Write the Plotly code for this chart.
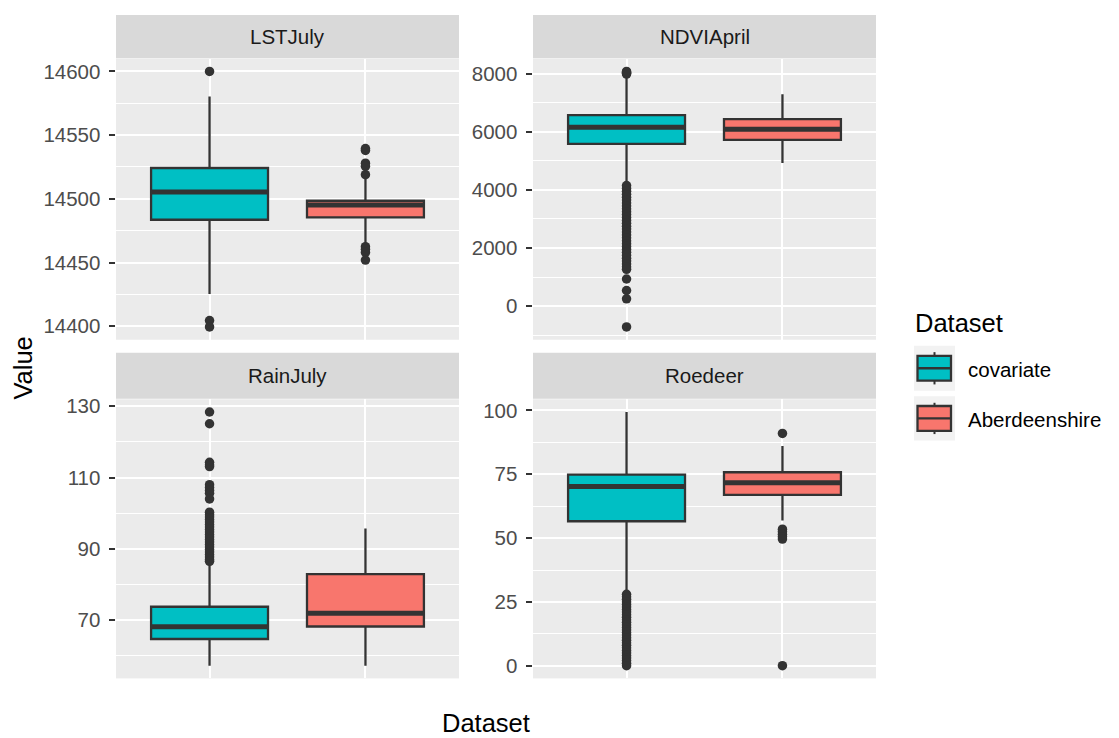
import plotly.graph_objects as go

# ---------------- data ----------------
panels = ["LSTJuly", "NDVIApril", "RainJuly", "Roedeer"]
datasets = ["covariate", "Aberdeenshire"]
fill_colors = ["#00BFC4", "#F8766D"]

# box statistics per panel (order of `panels`)
cov_q1 = [14483.6, 5584, 64.7, 56.6]
cov_median = [14505.3, 6154, 68.15, 70.2]
cov_q3 = [14524.2, 6575, 73.75, 74.9]
cov_lower = [14425.3, 4300, 57.2, 29.0]
cov_upper = [14580.4, 7950, 86.5, 99.4]

abd_q1 = [14485.5, 5720, 68.2, 66.9]
abd_median = [14495.1, 6085, 71.9, 71.7]
abd_q3 = [14498.5, 6438, 82.9, 75.8]
abd_lower = [14465.0, 4923, 57.2, 56.9]
abd_upper = [14517.0, 7293, 95.7, 86.1]

# outliers
lst_cov_out = [14600, 14404.5, 14399.5]
lst_abd_out = [14539.5, 14538, 14528, 14525.5, 14519, 14462.5, 14460.5, 14458, 14452]
ndvi_cov_out = [7990, 8020, 8050, 8080,
                4150, 4050, 3950, 3850, 3750, 3650, 3550, 3450, 3350, 3250,
                3150, 3050, 2950, 2850, 2750, 2650, 2550, 2450, 2350, 2250,
                2150, 2050, 1950, 1850, 1750, 1650, 1550, 1450, 1350, 1265,
                933, 537, 250, -718]
ndvi_abd_out = []
rain_cov_out = [128.4, 125.1, 114.3, 113.6, 113.1, 108.0, 107.2, 106.4, 105.6, 104.0,
                100.3, 99.6, 98.9, 98.2, 97.5, 96.8, 96.1, 95.4, 94.7, 94.0,
                93.3, 92.6, 91.9, 91.2, 90.5, 89.8, 89.1, 88.4, 87.7, 87.0, 86.5]
rain_abd_out = []
roe_cov_out = [28, 27, 26, 25, 24, 23, 22, 21, 20, 19, 18, 17, 16, 15, 14,
               13, 12, 11, 10, 9, 8, 7, 6, 5, 4, 3, 2, 1, 0]
roe_abd_out = [91.0, 53.5, 52.5, 51.5, 50.5, 49.6, 0]

cov_outliers = [lst_cov_out, ndvi_cov_out, rain_cov_out, roe_cov_out]
abd_outliers = [lst_abd_out, ndvi_abd_out, rain_abd_out, roe_abd_out]

# axis ticks per panel
tick0 = [14400, 0, 70, 0]
major_dtick = [50, 2000, 20, 25]
minor_dtick = [25, 1000, 10, 12.5]

# ---------------- layout helpers ----------------
W, H = 1119, 738
def px(x):
    return x / W
def py(y):
    return 1 - y / H

panel_x = [(116, 459), (533, 876), (116, 459), (533, 876)]
panel_y = [(54, 337), (54, 337), (397, 678), (397, 678)]
strip_y = [(10, 53.5), (10, 53.5), (350, 396.5), (350, 396.5)]

FONT = "Liberation Sans, Arial, sans-serif"
DARK = "#333333"
BOXW = 0.75

fig = go.Figure()

stats = [
    (cov_q1, cov_median, cov_q3, cov_lower, cov_upper, cov_outliers),
    (abd_q1, abd_median, abd_q3, abd_lower, abd_upper, abd_outliers),
]

layout_axes = {}
for i, name in enumerate(panels):
    xa = "x" if i == 0 else f"x{i+1}"
    ya = "y" if i == 0 else f"y{i+1}"
    allvals = []
    for d, (q1, med, q3, lo, hi, outs) in enumerate(stats):
        pos = d + 1
        fig.add_trace(go.Scatter(
            x=[pos] * len(outs[i]), y=outs[i], mode="markers",
            marker=dict(size=9.5, color=DARK, line=dict(width=0)),
            xaxis=xa, yaxis=ya, showlegend=False, hoverinfo="y"))
        fig.add_trace(go.Box(
            x=[pos], q1=[q1[i]], median=[med[i]], q3=[q3[i]],
            lowerfence=[lo[i]], upperfence=[hi[i]],
            width=BOXW, whiskerwidth=0, boxpoints=False,
            fillcolor=fill_colors[d], line=dict(color=DARK, width=2.3),
            name=datasets[d], xaxis=xa, yaxis=ya, showlegend=False))
        fig.add_trace(go.Scatter(
            x=[pos - BOXW / 2, pos + BOXW / 2], y=[med[i], med[i]], mode="lines",
            line=dict(color=DARK, width=5), xaxis=xa, yaxis=ya,
            showlegend=False, hoverinfo="skip"))
        allvals += [lo[i], hi[i]] + list(outs[i])
    vmin, vmax = min(allvals), max(allvals)
    pad = (vmax - vmin) * 0.05
    x0, x1 = panel_x[i]
    y0, y1 = panel_y[i]
    layout_axes["xaxis" if i == 0 else f"xaxis{i+1}"] = dict(
        domain=[px(x0), px(x1)], anchor=ya, range=[0.4, 2.6],
        tickvals=[1, 2], showticklabels=False, ticks="",
        showgrid=True, gridcolor="white", gridwidth=2,
        zeroline=False, showline=False, fixedrange=True)
    layout_axes["yaxis" if i == 0 else f"yaxis{i+1}"] = dict(
        domain=[py(y1), py(y0)], anchor=xa, range=[vmin - pad, vmax + pad],
        tick0=tick0[i], dtick=major_dtick[i], tickmode="linear", tickformat="d",
        ticks="outside", ticklen=6.5, tickwidth=2, tickcolor=DARK,
        ticklabelstandoff=4,
        tickfont=dict(family=FONT, size=20.5, color="#4D4D4D"),
        showgrid=True, gridcolor="white", gridwidth=2,
        minor=dict(tick0=tick0[i], dtick=minor_dtick[i], showgrid=True,
                   gridcolor="white", gridwidth=1, ticks=""),
        zeroline=False, showline=False, fixedrange=True)

shapes = []
annotations = []
for i, name in enumerate(panels):
    x0, x1 = panel_x[i]
    s0, s1 = strip_y[i]
    shapes.append(dict(type="rect", xref="paper", yref="paper",
                       x0=px(x0), x1=px(x1), y0=py(s1), y1=py(s0),
                       fillcolor="#D9D9D9", line=dict(width=0), layer="below"))
    annotations.append(dict(text=name, xref="paper", yref="paper",
                            x=px((x0 + x1) / 2), y=py((s0 + s1) / 2),
                            xanchor="center", yanchor="middle", showarrow=False,
                            font=dict(family=FONT, size=20.5, color="#1A1A1A")))

# axis titles
annotations.append(dict(text="Value", xref="paper", yref="paper", x=px(23), y=py(366),
                        textangle=-90, xanchor="center", yanchor="middle", showarrow=False,
                        font=dict(family=FONT, size=25.5, color="black")))
annotations.append(dict(text="Dataset", xref="paper", yref="paper", x=px(486), y=py(723),
                        xanchor="center", yanchor="middle", showarrow=False,
                        font=dict(family=FONT, size=25.5, color="black")))

# legend (drawn manually, ggplot style)
annotations.append(dict(text="Dataset", xref="paper", yref="paper", x=px(913), y=py(320),
                        xanchor="left", yanchor="middle", showarrow=False,
                        font=dict(family=FONT, size=25.5, color="black")))
keys = [(343, 388.5), (394, 438.5)]
for d, (k0, k1) in enumerate(keys):
    kc = (k0 + k1) / 2
    shapes.append(dict(type="rect", xref="paper", yref="paper",
                       x0=px(914), x1=px(955), y0=py(k1), y1=py(k0),
                       fillcolor="#F2F2F2", line=dict(width=0)))
    b0, b1 = kc - 12.5, kc + 12.5
    shapes.append(dict(type="line", xref="paper", yref="paper",
                       x0=px(934.5), x1=px(934.5), y0=py(k0 + 6.5), y1=py(k1 - 6.5),
                       line=dict(color=DARK, width=2)))
    shapes.append(dict(type="rect", xref="paper", yref="paper",
                       x0=px(917.5), x1=px(951), y0=py(b1), y1=py(b0),
                       fillcolor=fill_colors[d], line=dict(color=DARK, width=2.3)))
    shapes.append(dict(type="line", xref="paper", yref="paper",
                       x0=px(917.5), x1=px(951), y0=py(kc), y1=py(kc),
                       line=dict(color=DARK, width=2.3)))
    annotations.append(dict(text=datasets[d], xref="paper", yref="paper",
                            x=px(966), y=py(kc + 1), xanchor="left", yanchor="middle",
                            showarrow=False,
                            font=dict(family=FONT, size=20.5, color="black")))

fig.update_layout(
    width=W, height=H, margin=dict(l=0, r=0, t=0, b=0, pad=0),
    paper_bgcolor="white", plot_bgcolor="#EBEBEB",
    boxmode="overlay", showlegend=False,
    shapes=shapes, annotations=annotations,
    **layout_axes)

fig.write_html("out.html", config={"displayModeBar": False},
               post_script="document.body.style.margin='0';document.body.style.overflow='hidden';")
